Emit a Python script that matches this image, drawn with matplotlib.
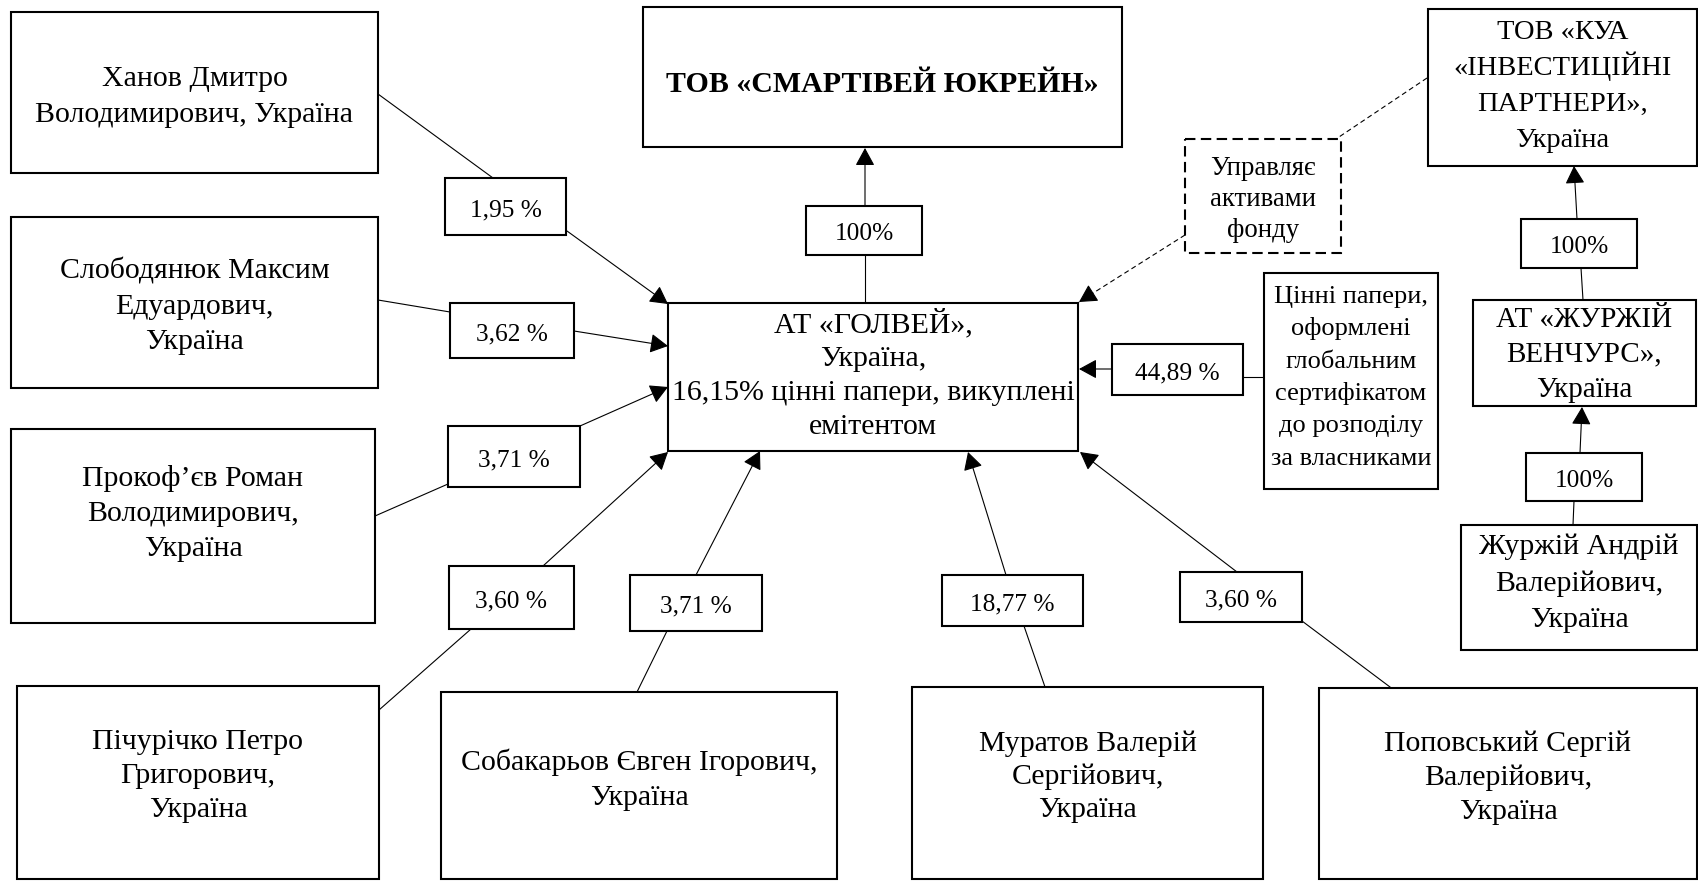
"""
Ownership structure of AT «GOLVEY» (recreated diagram).
Pixel-based layout: axes span the whole figure, y grows downwards.
"""

import matplotlib
matplotlib.use("Agg")
import matplotlib.pyplot as plt
from matplotlib.patches import Rectangle

plt.rcParams['font.family'] = ['Liberation Serif', 'DejaVu Serif']

# ═══════════════════════════════════════════════════════════════════════
# Data: entities and ownership shares
# ═══════════════════════════════════════════════════════════════════════

NAMES = {
    'smart':      ["ТОВ «СМАРТІВЕЙ ЮКРЕЙН»"],
    'golvey':     ["АТ «ГОЛВЕЙ»,", "Україна,",
                   "16,15% цінні папери, викуплені", "емітентом"],
    'kua':        ["ТОВ «КУА", "«ІНВЕСТИЦІЙНІ", "ПАРТНЕРИ»,", "Україна"],
    'manage':     ["Управляє", "активами", "фонду"],
    'global':     ["Цінні папери,", "оформлені", "глобальним",
                   "сертифікатом", "до розподілу", "за власниками"],
    'zhventures': ["АТ «ЖУРЖІЙ", "ВЕНЧУРС»,", "Україна"],
    'zhandriy':   ["Журжій Андрій", "Валерійович,", "Україна"],
    'khanov':     ["Ханов Дмитро", "Володимирович, Україна"],
    'slobod':     ["Слободянюк Максим", "Едуардович,", "Україна"],
    'prokof':     ["Прокоф’єв Роман", "Володимирович,", "Україна"],
    'pichur':     ["Пічурічко Петро", "Григорович,", "Україна"],
    'sobak':      ["Собакарьов Євген Ігорович,", "Україна"],
    'murat':      ["Муратов Валерій", "Сергійович,", "Україна"],
    'popov':      ["Поповський Сергій", "Валерійович,", "Україна"],
}

SHARE_LABELS = ['1,95 %', '3,62 %', '3,71 %', '3,60 %', '3,71 %', '18,77 %',
                '3,60 %', '44,89 %', '100%', '100%', '100%']

# ═══════════════════════════════════════════════════════════════════════
# Layout (pixels, origin top-left)
# ═══════════════════════════════════════════════════════════════════════

W, H, DPI = 1699, 881, 100

BOXES = {
    'smart':      (643, 7, 1122, 147),
    'golvey':     (668, 303, 1078, 451),
    'kua':        (1428, 9, 1697, 166),
    'manage':     (1185, 139, 1341, 253),
    'global':     (1264, 273, 1438, 489),
    'zhventures': (1473, 300, 1696, 406),
    'zhandriy':   (1461, 525, 1697, 650),
    'khanov':     (11, 12, 378, 173),
    'slobod':     (11, 217, 378, 388),
    'prokof':     (11, 429, 375, 623),
    'pichur':     (17, 686, 379, 879),
    'sobak':      (441, 692, 837, 879),
    'murat':      (912, 687, 1263, 879),
    'popov':      (1319, 688, 1697, 879),
}
DASHED_BOXES = {'manage'}

# text: (center y, line spacing, font size, weight)
TEXT_STYLE = {
    'smart':      (83, 0, 21.5, 'bold'),
    'golvey':     (374, 34, 21.5, 'normal'),
    'kua':        (84, 36, 20.5, 'normal'),
    'manage':     (198, 31, 19.3, 'normal'),
    'global':     (376, 32.3, 19.0, 'normal'),
    'zhventures': (353, 35, 21.0, 'normal'),
    'zhandriy':   (582, 36.5, 21.5, 'normal'),
    'khanov':     (95, 36, 21.5, 'normal'),
    'slobod':     (305, 35, 21.5, 'normal'),
    'prokof':     (512, 35, 21.5, 'normal'),
    'pichur':     (774, 34, 21.5, 'normal'),
    'sobak':      (779, 35, 21.5, 'normal'),
    'murat':      (775, 33, 21.5, 'normal'),
    'popov':      (776, 34, 21.5, 'normal'),
}

# share links: label box, plain line (owner -> label), arrow (label -> owned)
SHARE_BOXES = [
    (445, 178, 566, 235), (450, 303, 574, 358), (448, 426, 580, 487),
    (449, 566, 574, 629), (630, 575, 762, 631), (942, 575, 1083, 626),
    (1180, 572, 1302, 622), (1112, 344, 1243, 395), (806, 206, 922, 255),
    (1521, 219, 1637, 268), (1526, 453, 1642, 501),
]
SHARE_LINES = [
    ((378, 94), (493, 178)), ((378, 300), (450, 312)), ((375, 516), (448, 484)),
    ((379, 710), (471, 629)), ((637, 692), (667, 631)), ((1045, 687), (1024, 626)),
    ((1390, 687), (1302, 621)), ((1264, 377), (1243, 377)), ((865, 303), (865, 255)),
    ((1583, 300), (1581, 268)), ((1573, 525), (1574, 501)),
]
SHARE_ARROWS = [
    ((567, 231), (668, 304)), ((574, 331), (668, 346)), ((580, 426), (668, 387)),
    ((543, 566), (668, 452)), ((696, 575), (760, 451)), ((1006, 575), (968, 452)),
    ((1237, 572), (1080, 452)), ((1112, 369), (1079, 369)), ((865, 206), (865, 148)),
    ((1577, 219), (1574, 166)), ((1580, 453), (1582, 407)),
]

# management link (dashed)
MANAGE_LINE = ((1427, 78), (1336, 139))
MANAGE_ARROW = ((1185, 235), (1079, 302))

LABEL_FS = 18.3
BOX_LW = 1.5
LINK_LW = 0.8
ARROW_STYLE = '-|>,head_length=0.55,head_width=0.3'
ARROW_SCALE = 20


def put_lines(ax, lines, cx, cy, sp, fs, weight='normal'):
    """Draws centred text lines around (cx, cy) with fixed spacing."""
    n = len(lines)
    em = fs * DPI / 72
    for i, s in enumerate(lines):
        y = cy + (i - (n - 1) / 2) * sp + 0.3 * em
        ax.text(cx, y, s, ha='center', va='baseline',
                fontsize=fs, fontweight=weight, color='black')


def draw_box(ax, box, dashed=False, lw=BOX_LW):
    x0, y0, x1, y1 = box
    ls = (0, (5, 2.6)) if dashed else '-'
    ax.add_patch(Rectangle((x0, y0), x1 - x0, y1 - y0, fill=True,
                           facecolor='white', edgecolor='black',
                           linewidth=lw, linestyle=ls, zorder=3))


def draw_arrow(ax, start, tip, ls='-'):
    ax.annotate('', xy=tip, xytext=start,
                arrowprops=dict(arrowstyle=ARROW_STYLE, color='black',
                                lw=LINK_LW, linestyle=ls,
                                shrinkA=0, shrinkB=0,
                                mutation_scale=ARROW_SCALE),
                zorder=2)


if __name__ == "__main__":

    fig = plt.figure(figsize=(W / DPI, H / DPI), dpi=DPI)
    ax = fig.add_axes([0, 0, 1, 1])
    ax.set_xlim(0, W)
    ax.set_ylim(H, 0)
    ax.axis('off')

    # entity boxes
    for key, box in BOXES.items():
        draw_box(ax, box, dashed=key in DASHED_BOXES)
        cy, sp, fs, wt = TEXT_STYLE[key]
        cx = (box[0] + box[2]) / 2
        put_lines(ax, NAMES[key], cx, cy, sp, fs, wt)

    # share links
    for label, lbox, line, arrow in zip(SHARE_LABELS, SHARE_BOXES,
                                        SHARE_LINES, SHARE_ARROWS):
        (ax0, ay0), (ax1, ay1) = line
        ax.plot([ax0, ax1], [ay0, ay1], color='black', lw=LINK_LW, zorder=2)
        draw_arrow(ax, *arrow)
        draw_box(ax, lbox)
        cx = (lbox[0] + lbox[2]) / 2
        cy = (lbox[1] + lbox[3]) / 2 + 2
        put_lines(ax, [label], cx, cy, 0, LABEL_FS)

    # management (dashed) link
    (m0x, m0y), (m1x, m1y) = MANAGE_LINE
    ax.plot([m0x, m1x], [m0y, m1y], color='black', lw=LINK_LW,
            linestyle=(0, (4.5, 3)), zorder=2)
    (s0x, s0y), (t0x, t0y) = MANAGE_ARROW
    ax.plot([s0x, t0x], [s0y, t0y], color='black', lw=LINK_LW,
            linestyle=(0, (4.5, 3)), zorder=2)
    dx, dy = s0x - t0x, s0y - t0y
    d = (dx ** 2 + dy ** 2) ** 0.5
    draw_arrow(ax, (t0x + dx / d * 16, t0y + dy / d * 16), (t0x, t0y))

    fig.savefig('out.png', dpi=DPI)
